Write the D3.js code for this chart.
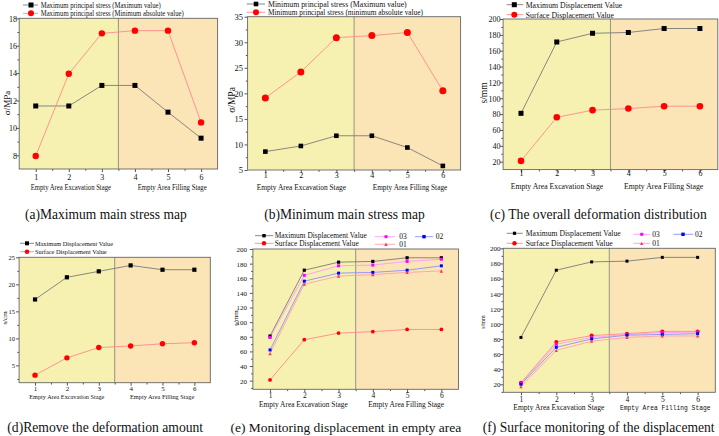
<!DOCTYPE html>
<html><head><meta charset="utf-8">
<script src="https://cdn.jsdelivr.net/npm/d3@7"></script>
<style>body{margin:0;background:#fff}svg{display:block}text{fill:#111}</style>
</head><body><svg id="c" width="719" height="436" font-family="Liberation Serif, Times New Roman, serif"></svg>
<script>
// ---------------- DATA ----------------
const stages = [1, 2, 3, 4, 5, 6];
const stageLabels = ["Empty Area Excavation Stage", "Empty Area Filling Stage"];
// (a) maximum principal stress (MPa)
const aMaxValue = [11.6, 11.6, 13.1, 13.1, 11.15, 9.25];
const aMinAbs   = [7.95, 13.95, 16.9, 17.1, 17.1, 10.4];
// (b) minimum principal stress (MPa)
const bMaxValue = [8.6, 9.7, 11.7, 11.7, 9.4, 5.8];
const bMinAbs   = [19.1, 24.2, 30.9, 31.3, 31.9, 20.5];
// (c) overall deformation (mm)
const cMaxDisp  = [81, 171, 182, 183, 188, 188];
const cSurfDisp = [21, 76, 85, 87, 90, 90];
// (d) removed deformation (cm)
const dMaxDisp  = [17.2, 21.3, 22.4, 23.5, 22.7, 22.7];
const dSurfDisp = [3.2, 6.4, 8.3, 8.6, 9.0, 9.2];
// (e) monitoring displacement in empty area (mm)
const eMaxDisp  = [81, 171, 182, 183, 188, 188];
const eSurfDisp = [21, 76, 85, 87, 90, 90];
const e03 = [79, 164, 177, 178, 183, 186];
const e02 = [62, 156, 167, 168, 171, 177];
const e01 = [57, 152, 163, 165, 168, 170];
// (f) surface monitoring (mm)
const fMaxDisp  = [82, 171, 182, 183, 188, 188];
const fSurfDisp = [22, 76, 84.5, 87, 90, 90];
const f03 = [21, 73, 82, 86, 88.5, 89];
const f02 = [20, 69, 80, 85, 86, 87];
const f01 = [17, 65, 77, 82, 84, 84];

const yTicksA = [8, 10, 12, 14, 16, 18];
const yTicksB = [5, 10, 15, 20, 25, 30, 35];
const yTicksD = [5, 10, 15, 20, 25];
const yTicksMM = [20, 40, 60, 80, 100, 120, 140, 160, 180, 200];

// ---------------- STYLES ----------------
const YEL = "#f6f1b1", PEACH = "#fbe4b6";
const ST = {
  max:  {mk: "square",   fill: "#000",    line: "#7a7a7a"},
  surf: {mk: "circle",   fill: "#ff0000", line: "#ff8a8a"},
  s03:  {mk: "square",   fill: "#ff00ff", line: "#ff99ff"},
  s02:  {mk: "square",   fill: "#0000ff", line: "#8f8fff"},
  s01:  {mk: "triangle", fill: "#ff3366", line: "#ffa0b0"}
};

const svg = d3.select("#c");

// fit text to a target width by adjusting font size (keeps natural glyph shapes)
function fitText(t, w, fs) {
  t.attr("font-size", fs);
  const len = t.node().getComputedTextLength();
  if (len > 0) t.attr("font-size", fs * w / len);
}

function marker(g, st, cx, cy, s) {
  if (st.mk === "circle") {
    g.append("circle").attr("cx", cx).attr("cy", cy).attr("r", s / 2).attr("fill", st.fill);
  } else if (st.mk === "square") {
    g.append("rect").attr("x", cx - s / 2).attr("y", cy - s / 2).attr("width", s).attr("height", s).attr("fill", st.fill);
  } else {
    const h = s;
    g.append("path").attr("d", `M${cx},${cy - h / 2}L${cx + h / 2},${cy + h / 2}L${cx - h / 2},${cy + h / 2}Z`).attr("fill", st.fill);
  }
}

function panel(cfg) {
  const g = svg.append("g");
  const x = d3.scaleLinear().domain([0.5, 6.5]).range([cfg.l, cfg.r]);
  const y = d3.scaleLinear().domain(cfg.yd).range([cfg.b, cfg.t]);
  // backgrounds
  g.append("rect").attr("x", x(0.5)).attr("y", cfg.t).attr("width", x(3.5) - x(0.5)).attr("height", cfg.b - cfg.t).attr("fill", YEL);
  g.append("rect").attr("x", x(3.5)).attr("y", cfg.t).attr("width", x(6.5) - x(3.5)).attr("height", cfg.b - cfg.t).attr("fill", PEACH);
  g.append("line").attr("x1", x(3.5)).attr("x2", x(3.5)).attr("y1", cfg.t).attr("y2", cfg.b).attr("stroke", "#8a8a7a").attr("stroke-width", 0.9);

  // y axis
  const ya = g.append("g").attr("transform", `translate(${cfg.l},0)`)
    .call(d3.axisLeft(y).tickValues(cfg.yt).tickSize(3).tickFormat(d3.format("d")));
  ya.attr("font-family", null);
  ya.select(".domain").remove();
  ya.selectAll("line").attr("stroke", "#555");
  ya.selectAll("text").attr("font-size", cfg.yfs)
    .attr("x", cfg.ylx - cfg.l).attr("dy", "0.35em").attr("fill", "#222");
  // minor y ticks
  const ym = [];
  for (let i = 0; i < cfg.yt.length - 1; i++) ym.push((cfg.yt[i] + cfg.yt[i + 1]) / 2);
  if (cfg.yt[0] - (cfg.yt[1] - cfg.yt[0]) / 2 > cfg.yd[0]) ym.push(cfg.yt[0] - (cfg.yt[1] - cfg.yt[0]) / 2);
  g.append("g").attr("transform", `translate(${cfg.l},0)`)
    .call(d3.axisLeft(y).tickValues(ym).tickSize(1.8).tickFormat(""))
    .call(s => s.select(".domain").remove()).selectAll("line").attr("stroke", "#555");

  // x axis
  const xa = g.append("g").attr("transform", `translate(0,${cfg.b})`)
    .call(d3.axisBottom(x).tickValues(stages).tickSize(3).tickFormat(d3.format("d")));
  xa.attr("font-family", null);
  xa.select(".domain").remove();
  xa.selectAll("line").attr("stroke", "#555");
  xa.selectAll("text").attr("font-size", cfg.xfs)
    .attr("y", cfg.xly - cfg.b).attr("dy", "0.35em").attr("fill", "#222");
  g.append("g").attr("transform", `translate(0,${cfg.b})`)
    .call(d3.axisBottom(x).tickValues([1.5, 2.5, 3.5, 4.5, 5.5]).tickSize(1.8).tickFormat(""))
    .call(s => s.select(".domain").remove()).selectAll("line").attr("stroke", "#555");

  // frame
  g.append("rect").attr("x", cfg.l).attr("y", cfg.t).attr("width", cfg.r - cfg.l).attr("height", cfg.b - cfg.t)
    .attr("fill", "none").attr("stroke", "#666").attr("stroke-width", 0.9);

  // series
  const line = d3.line().x((d, i) => x(stages[i])).y(d => y(d));
  cfg.series.forEach(s => {
    g.append("path").attr("d", line(s.data)).attr("fill", "none").attr("stroke", s.st.line).attr("stroke-width", 0.9);
  });
  cfg.series.forEach(s => {
    s.data.forEach((d, i) => marker(g, s.st, x(stages[i]), y(d), s.ms));
  });

  // legend
  cfg.legend.forEach(L => {
    g.append("line").attr("x1", L.x1).attr("x2", L.x2).attr("y1", L.y).attr("y2", L.y).attr("stroke", L.st.line).attr("stroke-width", 0.9);
    marker(g, L.st, L.mx, L.y, L.ms);
    const t = g.append("text").attr("x", L.tx).attr("y", L.y).attr("dy", "0.35em").attr("font-size", L.fs).text(L.text);
    if (L.tw) t.attr("textLength", L.tw).attr("lengthAdjust", "spacingAndGlyphs");
  });

  // stage labels
  cfg.stage.forEach((S, i) => {
    const t = g.append("text").attr("x", S.x).attr("y", cfg.sly).attr("dy", "0.35em").attr("font-size", cfg.sfs)
      .text(stageLabels[i]);
    if (S.mono) {
      t.attr("font-family", "Liberation Mono, DejaVu Sans Mono, monospace");
      fitText(t, S.w, cfg.sfs);
    } else {
      t.attr("textLength", S.w).attr("lengthAdjust", "spacingAndGlyphs");
    }
  });

  // y title
  g.append("text").attr("transform", `translate(${cfg.ytx},${cfg.yty}) rotate(-90)`).attr("text-anchor", "middle")
    .attr("dy", "0.35em").attr("font-size", cfg.ytfs).text(cfg.ytitle);

  // caption
  const cap = g.append("text").attr("x", cfg.cap.x).attr("y", cfg.cap.y).text(cfg.cap.text);
  fitText(cap, cfg.cap.w, 14);
}

// (a)
panel({
  l: 19.2, r: 217.6, t: 18.3, b: 169, yd: [7, 18], yt: yTicksA, yfs: 8, ylx: 17, xfs: 8, xly: 177,
  series: [{data: aMaxValue, st: ST.max, ms: 5}, {data: aMinAbs, st: ST.surf, ms: 6.4}],
  legend: [
    {y: 5, x1: 23, x2: 38, mx: 31, tx: 40.7, st: ST.max, ms: 5, fs: 8, text: "Maximum principal stress (Maximum value)", tw: 120},
    {y: 13.3, x1: 23, x2: 38, mx: 31, tx: 40.7, st: ST.surf, ms: 6, fs: 8, text: "Maximum principal stress (Minimum absolute value)", tw: 143}
  ],
  stage: [{x: 30.7, w: 80.3}, {x: 137.7, w: 69}], sly: 187, sfs: 8,
  ytitle: "σ/MPa", ytx: 7, yty: 103, ytfs: 9,
  cap: {x: 25, y: 219, w: 162, text: "(a)Maximum main stress map"}
});
// (b)
panel({
  l: 247.6, r: 460.6, t: 16.7, b: 170, yd: [5, 35], yt: yTicksB, yfs: 8.5, ylx: 243, xfs: 8, xly: 175,
  series: [{data: bMaxValue, st: ST.max, ms: 4.6}, {data: bMinAbs, st: ST.surf, ms: 7}],
  legend: [
    {y: 4, x1: 246.7, x2: 265, mx: 256, tx: 268, st: ST.max, ms: 4.6, fs: 8, text: "Minimum principal stress (Maximum value)", tw: 138.7},
    {y: 12.3, x1: 246.7, x2: 265, mx: 256, tx: 268, st: ST.surf, ms: 6, fs: 8, text: "Minimum principal stress (minimum absolute value)", tw: 155}
  ],
  stage: [{x: 256.7, w: 89.3}, {x: 372.7, w: 74.6}], sly: 187, sfs: 8,
  ytitle: "σ/MPa", ytx: 232, yty: 100, ytfs: 9.5,
  cap: {x: 264.3, y: 219, w: 160.7, text: "(b)Minimum main stress map"}
});
// (c)
panel({
  l: 503.1, r: 717.8, t: 19, b: 169.6, yd: [10, 200], yt: yTicksMM, yfs: 8, ylx: 500.5, xfs: 8, xly: 173,
  series: [{data: cMaxDisp, st: ST.max, ms: 5}, {data: cSurfDisp, st: ST.surf, ms: 6.6}],
  legend: [
    {y: 4.7, x1: 506.7, x2: 523.3, mx: 514.3, tx: 525.7, st: ST.max, ms: 5, fs: 8.5, text: "Maximum Displacement Value", tw: 96.6},
    {y: 14.7, x1: 506.7, x2: 523.3, mx: 514.3, tx: 525.7, st: ST.surf, ms: 6, fs: 8.5, text: "Surface Displacement Value", tw: 88.3}
  ],
  stage: [{x: 510.7, w: 92.6}, {x: 624, w: 79.3}], sly: 186, sfs: 8.5,
  ytitle: "s/mm", ytx: 484, yty: 93, ytfs: 9.5,
  cap: {x: 490, y: 219, w: 216.7, text: "(c) The overall deformation distribution"}
});
// (d)
panel({
  l: 19.1, r: 210.3, t: 257.3, b: 382.7, yd: [1.8, 25], yt: yTicksD, yfs: 6.5, ylx: 15, xfs: 7, xly: 389,
  series: [{data: dMaxDisp, st: ST.max, ms: 4.2}, {data: dSurfDisp, st: ST.surf, ms: 5.4}],
  legend: [
    {y: 243.3, x1: 20, x2: 34, mx: 27, tx: 35, st: ST.max, ms: 4, fs: 6.5, text: "Maximum Displacement Value", tw: 78},
    {y: 251.7, x1: 20, x2: 34, mx: 27, tx: 35, st: ST.surf, ms: 4.6, fs: 6.5, text: "Surface Displacement Value", tw: 71.7}
  ],
  stage: [{x: 29.3, w: 75}, {x: 130, w: 64.3}], sly: 396.7, sfs: 7,
  ytitle: "s/cm", ytx: 5, yty: 318, ytfs: 7,
  cap: {x: 7.3, y: 432, w: 196, text: "(d)Remove the deformation amount"}
});
// (e)
panel({
  l: 252.9, r: 458.5, t: 249, b: 389.3, yd: [8.2, 200], yt: yTicksMM, yfs: 7, ylx: 247, xfs: 7.5, xly: 395,
  series: [
    {data: eMaxDisp, st: ST.max, ms: 3.2}, {data: eSurfDisp, st: ST.surf, ms: 3.8},
    {data: e03, st: ST.s03, ms: 3}, {data: e02, st: ST.s02, ms: 3}, {data: e01, st: ST.s01, ms: 3.4}
  ],
  legend: [
    {y: 235.7, x1: 255, x2: 273.3, mx: 264, tx: 274.7, st: ST.max, ms: 3.4, fs: 7.5, text: "Maximum Displacement Value", tw: 92},
    {y: 243.3, x1: 255, x2: 273.3, mx: 264, tx: 274.7, st: ST.surf, ms: 4.4, fs: 7.5, text: "Surface Displacement Value", tw: 84},
    {y: 236.7, x1: 375, x2: 395, mx: 386, tx: 399.3, st: ST.s03, ms: 3, fs: 7.5, text: "03"},
    {y: 244.3, x1: 375, x2: 395, mx: 386, tx: 399.3, st: ST.s01, ms: 3.4, fs: 7.5, text: "01"},
    {y: 236.7, x1: 415, x2: 433.3, mx: 424, tx: 435.7, st: ST.s02, ms: 3.4, fs: 7.5, text: "02"}
  ],
  stage: [{x: 259, w: 88.7}, {x: 368.3, w: 75.7}], sly: 404, sfs: 7.5,
  ytitle: "s/mm", ytx: 236, yty: 318, ytfs: 7,
  cap: {x: 230.5, y: 432, w: 231, text: "(e) Monitoring displacement in empty area"}
});
// (f)
panel({
  l: 503.3, r: 715.3, t: 248.3, b: 392.3, yd: [9.4, 200], yt: yTicksMM, yfs: 7, ylx: 500.5, xfs: 7.5, xly: 399.3,
  series: [
    {data: fMaxDisp, st: ST.max, ms: 3}, {data: fSurfDisp, st: ST.surf, ms: 4},
    {data: f03, st: ST.s03, ms: 3}, {data: f02, st: ST.s02, ms: 3}, {data: f01, st: ST.s01, ms: 3.2}
  ],
  legend: [
    {y: 233.3, x1: 506.7, x2: 522.7, mx: 514.5, tx: 525.7, st: ST.max, ms: 3.2, fs: 7.5, text: "Maximum Displacement Value", tw: 95},
    {y: 243.3, x1: 506.7, x2: 522.7, mx: 514.5, tx: 525.7, st: ST.surf, ms: 4.4, fs: 7.5, text: "Surface Displacement Value", tw: 87},
    {y: 234.3, x1: 633.3, x2: 650, mx: 641.7, tx: 652.3, st: ST.s03, ms: 3, fs: 7.5, text: "03"},
    {y: 243.3, x1: 633.3, x2: 650, mx: 641.7, tx: 652.3, st: ST.s01, ms: 3.2, fs: 7.5, text: "01"},
    {y: 234.3, x1: 673.3, x2: 693.3, mx: 683, tx: 695, st: ST.s02, ms: 3.4, fs: 7.5, text: "02"}
  ],
  stage: [{x: 513.3, w: 91}, {x: 620, w: 90.7, mono: true}], sly: 407.7, sfs: 7.5,
  ytitle: "s/mm", ytx: 483, yty: 322, ytfs: 6,
  cap: {x: 482.7, y: 432, w: 232, text: "(f) Surface monitoring of the displacement"}
});
</script>
</body></html>
